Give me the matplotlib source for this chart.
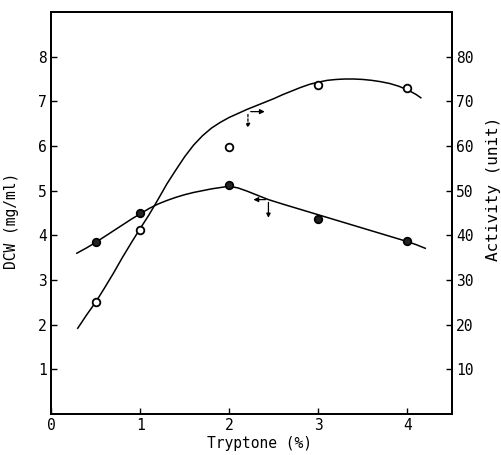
import matplotlib.pyplot as plt

# valeurs
tryptone = [0.5, 1.0, 2.0, 3.0, 4.0]
dcw = [3.85, 4.49, 5.12, 4.37, 3.88]          # mg/ml, axe gauche (points pleins)
activite = [25.0, 41.3, 59.8, 73.7, 73.0]      # unit, axe droit (cercles vides)

# courbes tracees a la main (points releves le long du trait)
courbe_dcw_x = [0.29, 0.4, 0.5, 0.6, 0.7, 0.8, 0.9, 1.0, 1.1, 1.2, 1.3, 1.4, 1.5, 1.6, 1.7,
                1.8, 1.9, 2.0, 2.1, 2.2, 2.3, 2.44, 2.6, 2.8, 3.0, 3.2, 3.4, 3.6, 3.8, 4.0, 4.1, 4.2]
courbe_dcw_y = [3.6, 3.72, 3.84, 3.97, 4.1, 4.23, 4.36, 4.48, 4.6, 4.7, 4.78, 4.85, 4.91, 4.96, 5.0,
                5.04, 5.07, 5.1, 5.06, 4.99, 4.91, 4.8, 4.7, 4.58, 4.46, 4.34, 4.22, 4.1, 3.98, 3.86, 3.79, 3.71]
courbe_act_x = [0.3, 0.4, 0.5, 0.6, 0.7, 0.8, 0.9, 1.0, 1.1, 1.2, 1.3, 1.4, 1.5, 1.6, 1.7, 1.8, 1.9,
                2.0, 2.1, 2.2, 2.3, 2.4, 2.5, 2.6, 2.7, 2.8, 2.9, 3.0, 3.1, 3.2, 3.3, 3.4, 3.5, 3.6,
                3.7, 3.8, 3.9, 4.0, 4.1, 4.15]
courbe_act_y = [19.2, 22.2, 25.0, 28.2, 31.5, 35.0, 38.3, 41.5, 44.6, 48.0, 51.5, 54.6, 57.6, 60.2, 62.3,
                64.0, 65.3, 66.4, 67.3, 68.2, 69.0, 69.8, 70.6, 71.5, 72.3, 73.1, 73.8, 74.3, 74.7,
                74.9, 75.0, 75.0, 74.9, 74.7, 74.4, 74.0, 73.4, 72.6, 71.5, 70.8]

xticks = [0, 1, 2, 3, 4]
yticks_gauche = [1, 2, 3, 4, 5, 6, 7, 8]
yticks_droite = [10, 20, 30, 40, 50, 60, 70, 80]

# petites fleches qui indiquent l'axe de chaque courbe
fleche_act = (2.21, 67.7)
fleche_dcw = (2.44, 4.8)

plt.rcParams['font.family'] = 'DejaVu Sans Mono'

fig = plt.figure(figsize=(5.02, 4.55), dpi=100)
ax = fig.add_axes([0.1016, 0.0901, 0.7988, 0.8835])
ax2 = ax.twinx()

ax.plot(courbe_dcw_x, courbe_dcw_y, color='black', lw=1.1)
ax.plot(tryptone, dcw, 'o', color='black', markerfacecolor='#222222', ms=5.5, mew=1.2)
ax2.plot(courbe_act_x, courbe_act_y, color='black', lw=1.1)
ax2.plot(tryptone, activite, 'o', color='black', markerfacecolor='white', ms=5.5, mew=1.3)

ax.set_xlim(0, 4.5)
ax.set_ylim(0, 9)
ax2.set_ylim(0, 90)

ax.set_xticks(xticks)
ax.set_yticks(yticks_gauche)
ax2.set_yticks(yticks_droite)

for a in (ax, ax2):
    a.tick_params(direction='in', length=4, width=1, labelsize=10.5, pad=3)
    for s in a.spines.values():
        s.set_linewidth(1.3)

# fleches
ax2.annotate('', xy=(fleche_act[0] + 0.22, fleche_act[1]), xytext=fleche_act,
             arrowprops=dict(arrowstyle='-|>', color='black', lw=0.9, mutation_scale=7))
ax2.annotate('', xy=(fleche_act[0], fleche_act[1] - 4.3), xytext=fleche_act,
             arrowprops=dict(arrowstyle='-|>', color='black', lw=0.9, ls=(0, (2, 1.5)), mutation_scale=6))
ax.annotate('', xy=(fleche_dcw[0] - 0.2, fleche_dcw[1]), xytext=fleche_dcw,
            arrowprops=dict(arrowstyle='-|>', color='black', lw=0.9, mutation_scale=7))
ax.annotate('', xy=(fleche_dcw[0], fleche_dcw[1] - 0.47), xytext=fleche_dcw,
            arrowprops=dict(arrowstyle='-|>', color='black', lw=0.9, mutation_scale=6))

ax.set_xlabel('Tryptone (%)', fontsize=10.5)
ax.set_ylabel('DCW (mg/ml)', fontsize=10.5)
ax2.set_ylabel('Activity (unit)', fontsize=11.5)
ax.xaxis.set_label_coords(0.52, -0.055)
ax.yaxis.set_label_coords(-0.08, 0.48)
ax2.yaxis.set_label_coords(1.085, 0.56)

plt.savefig('out.png', dpi=100)
